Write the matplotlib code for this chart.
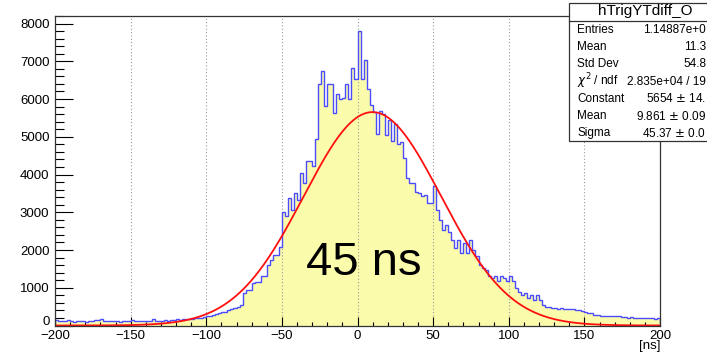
import numpy as np
import matplotlib
matplotlib.use("Agg")
import matplotlib.pyplot as plt
from matplotlib.ticker import MultipleLocator, FuncFormatter

plt.rcParams['font.family'] = ['Liberation Sans', 'DejaVu Sans']

# histogram: 200 bins of 2 ns from -200 to 200
bin_edges = np.arange(-200, 202, 2)

counts_far_left = [150, 120, 130, 110, 140, 120, 100, 110, 130, 110,
                   100, 120, 110, 150, 140, 170, 130, 120, 130, 110,
                   120, 100, 110, 120, 130, 140, 120, 130, 110, 130,
                   120, 110, 160, 120, 130, 120, 140, 130, 150, 140,
                   160, 150, 170, 160, 180, 170, 190, 200, 210, 220]
counts_near_left = [240, 250, 280, 300, 330, 350, 370, 400, 430, 470,
                    500, 550, 860, 950, 940, 1120, 1140, 1150, 1300, 1310,
                    1610, 1740, 1870, 1880, 2090,
                    3020, 2890, 3380, 3070, 3510, 3330, 4040, 3780, 4350, 4350,
                    4220, 4950, 6400, 6730, 5810, 6400, 6400, 5630, 6140, 6010,
                    6040, 6400, 6000, 6820, 6530]
counts_near_right = [7800, 6530, 7030, 6270, 5830, 5650, 5080, 5680, 5600, 5050,
                     5450, 4900, 5350, 4800, 4850, 4450, 3910, 3770, 3770, 3550,
                     3510, 3420, 3460, 3240, 3240,
                     3690, 3070, 2800, 2540, 2670, 2490, 2270, 2050, 2270, 1920,
                     2180, 1920, 2270, 2000, 1830, 1610, 1520, 1480, 1300, 1250,
                     1300, 1170, 1300, 1250, 1170]
counts_far_right = [1300, 1170, 990, 900, 810, 860, 720, 810, 680, 810,
                    680, 550, 500, 500, 460, 470, 450, 460, 440, 450,
                    440, 430, 410, 420, 390,
                    370, 340, 320, 290, 280, 260, 250, 260, 250, 240,
                    250, 240, 220, 230, 210, 220, 210, 200, 210, 200,
                    210, 190, 200, 180, 210]

counts = np.array(counts_far_left + counts_near_left + counts_near_right + counts_far_right)

# gaussian fit parameters (from stats box)
fit_const = 5654
fit_mean = 9.861
fit_sigma = 45.37

x_ticks = [-200, -150, -100, -50, 0, 50, 100, 150, 200]
x_ticklabels = ["\u2212200", "\u2212150", "\u2212100", "\u221250", "0", "50", "100", "150", "200"]

stat_labels = ["Entries", "Mean", "Std Dev", "$\\chi^2$ / ndf", "Constant", "Mean", "Sigma"]
stat_values = ["1.14887e+0", "11.3", "54.8", "2.835e+04 / 19", "5654 $\\pm$ 14.",
               "9.861 $\\pm$ 0.09", "45.37 $\\pm$ 0.0"]

W, H = 707, 353
fig = plt.figure(figsize=(W / 100, H / 100), dpi=100)
ax = fig.add_axes([55 / W, 1 - 325.5 / H, 605 / W, (325.5 - 16) / H])

ax.stairs(counts, bin_edges, fill=True, color='#fbfbac', lw=0, zorder=1)
ax.stairs(counts, bin_edges, color='#4c4cff', lw=1.0, zorder=3)

xf = np.linspace(-200, 200, 800)
yf = fit_const * np.exp(-0.5 * ((xf - fit_mean) / fit_sigma) ** 2)
ax.plot(xf, yf, color='#ff1010', lw=1.3, zorder=4)

ax.set_xlim(-200, 200)
ax.set_ylim(0, 8200)
ax.set_xticks(x_ticks)
ax.set_xticklabels(x_ticklabels)
ax.xaxis.set_minor_locator(MultipleLocator(10))
ax.yaxis.set_major_locator(MultipleLocator(1000))
ax.yaxis.set_minor_locator(MultipleLocator(200))
# the "0" label is drawn separately, a bit higher, so it clears the x labels
ax.yaxis.set_major_formatter(FuncFormatter(lambda v, p: "" if v == 0 else f"{v:.0f}"))
ax.tick_params(axis='x', which='major', direction='in', length=6.5, width=0.8, labelsize=9.5, pad=3)
ax.tick_params(axis='x', which='minor', direction='in', length=3.2, width=0.8)
ax.tick_params(axis='y', which='major', direction='in', length=13, width=0.8, labelsize=9.5, pad=4)
ax.tick_params(axis='y', which='minor', direction='in', length=6.5, width=0.8)
ax.grid(axis='x', which='major', color='#9a9a9a', lw=0.8, linestyle=(0, (1, 2)), zorder=2)
for s in ax.spines.values():
    s.set_linewidth(0.9)
    s.set_color('#333333')
    s.set_zorder(5)

ax.annotate("0", xy=(0, 0), xycoords=('axes fraction', 'data'),
            xytext=(-4, 2.5), textcoords='offset points',
            ha='right', va='center', fontsize=9.5)

ax.text(4.3, 1340, "45 ns", fontsize=34, ha='center', va='baseline', zorder=6)

fig.text(660 / W, 1 - 352 / H, "[ns]", fontsize=9.5, ha='right', va='bottom')

# stats box
bx0, by0, by1 = 569 / W, 1 - 141 / H, 1 - 3 / H
box = plt.Rectangle((bx0, by0), 1 - bx0 + 0.01, by1 - by0, transform=fig.transFigure,
                    facecolor='white', edgecolor='#333333', lw=0.9, zorder=10)
fig.add_artist(box)
fig.add_artist(plt.Line2D([bx0, 1], [1 - 20.5 / H] * 2, transform=fig.transFigure,
                          color='#333333', lw=0.9, zorder=11))
fig.text(645 / W, 1 - 11.5 / H, "hTrigYTdiff_O", fontsize=11, ha='center', va='center', zorder=12)
for i, (lab, val) in enumerate(zip(stat_labels, stat_values)):
    yy = 1 - (30 + i * 17.2) / H
    fig.text(577 / W, yy, lab, fontsize=8.5, ha='left', va='center', zorder=12)
    fig.text(706 / W, yy, val, fontsize=8.5, ha='right', va='center', zorder=12)

fig.savefig("out.png", dpi=100)
